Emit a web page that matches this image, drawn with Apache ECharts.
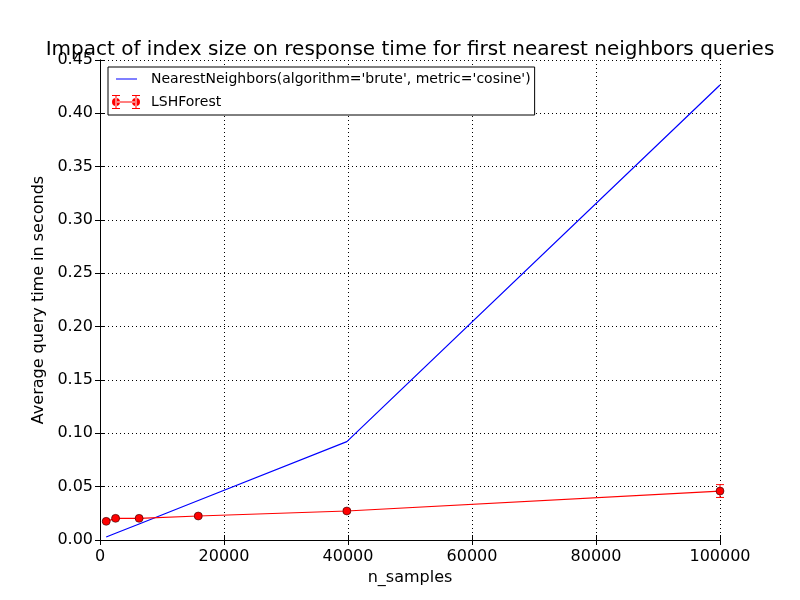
<!DOCTYPE html>
<html>
<head>
<meta charset="utf-8">
<script src="https://cdn.jsdelivr.net/npm/echarts@6/dist/echarts.min.js"></script>
<style>html,body{margin:0;padding:0;background:#fff}#c{width:800px;height:600px}</style>
</head>
<body>
<div id="c"></div>
<script>
const nSamples = [1000, 2512, 6310, 15849, 39811, 100000];
const bruteTimes = [0.0028, 0.0063, 0.0150, 0.0370, 0.0922, 0.4266];
const lshTimes = [0.0175, 0.0203, 0.0203, 0.0225, 0.0272, 0.0459];
const lshErrors = [0.0010, 0.0010, 0.0010, 0.0012, 0.0015, 0.0060];
const xTicks = [0, 20000, 40000, 60000, 80000, 100000];
const yTicks = [0, 0.05, 0.10, 0.15, 0.20, 0.25, 0.30, 0.35, 0.40, 0.45];

const FONT = 'DejaVu Sans';
const chart = echarts.init(document.getElementById('c'), null, {renderer: 'canvas'});

const bruteData = nSamples.map((x, i) => [x, bruteTimes[i]]);
const lshData = nSamples.map((x, i) => [x, lshTimes[i]]);
const errData = nSamples.map((x, i) => [x, lshTimes[i], lshErrors[i]]);

// bounding dots keep the icon box at 28x14
const BOX = 'M0,0 L0.01,0 L0,0.01 Z M28,14 L27.99,14 L28,13.99 Z ';
const bruteIcon = 'path://' + BOX + 'M4,6.5 L25,6.5 L25,7.5 L4,7.5 Z';
function errGlyph(cx) {
  return 'M' + (cx - 4) + ',0 L' + (cx + 4) + ',0 L' + (cx + 4) + ',1 L' + (cx - 4) + ',1 Z ' +
         'M' + (cx - 4) + ',13 L' + (cx + 4) + ',13 L' + (cx + 4) + ',14 L' + (cx - 4) + ',14 Z ' +
         'M' + (cx - 0.5) + ',0 L' + (cx + 0.5) + ',0 L' + (cx + 0.5) + ',14 L' + (cx - 0.5) + ',14 Z ' +
         'M' + (cx - 4) + ',7 A4,4 0 1 0 ' + (cx + 4) + ',7 A4,4 0 1 0 ' + (cx - 4) + ',7 Z ';
}
const lshIcon = 'path://' + BOX + errGlyph(4) + errGlyph(24) + 'M4,6.5 L24,6.5 L24,7.5 L4,7.5 Z';

const axisCommon = {
  type: 'value', min: 0,
  axisLine: {show: true, lineStyle: {color: '#000', width: 1}},
  axisTick: {show: true, inside: true, length: 5, lineStyle: {color: '#000'}},
};

chart.setOption({
  animation: false,
  backgroundColor: '#fff',
  title: {
    text: 'Impact of index size on response time for first nearest neighbors queries',
    left: 405, top: 35, textAlign: 'center',
    textStyle: {fontFamily: FONT, fontSize: 20, fontWeight: 'normal', color: '#000'}
  },
  grid: {left: 100, right: 80, top: 60, bottom: 60},
  legend: {
    orient: 'vertical', left: 108, top: 67,
    padding: [5, 4, 6, 4], itemGap: 9,
    itemWidth: 28, itemHeight: 14,
    backgroundColor: '#fff', borderColor: '#000', borderWidth: 1, borderRadius: 0,
    textStyle: {fontFamily: FONT, fontSize: 14, color: '#000', padding: [0, 0, 0, 6]},
    data: [
      {name: "NearestNeighbors(algorithm='brute', metric='cosine')", icon: bruteIcon,
       itemStyle: {color: '#0000ff', borderWidth: 0}},
      {name: 'LSHForest', icon: lshIcon, itemStyle: {color: '#ff0000', borderWidth: 0}}
    ]
  },
  xAxis: [
    Object.assign({}, axisCommon, {
      position: 'bottom', max: 100000, interval: 20000,
      name: 'n_samples', nameLocation: 'middle', nameGap: 29,
      nameTextStyle: {fontFamily: FONT, fontSize: 16, color: '#000'},
      axisLabel: {fontFamily: FONT, fontSize: 16, color: '#000', margin: 9, formatter: v => String(v)},
      splitLine: {show: true, lineStyle: {color: '#000', type: [1, 3], width: 1}}
    }),
    Object.assign({}, axisCommon, {
      position: 'top', max: 100000, interval: 20000,
      axisLabel: {show: false}, splitLine: {show: false}
    })
  ],
  yAxis: [
    Object.assign({}, axisCommon, {
      position: 'left', max: 0.45, interval: 0.05,
      name: 'Average query time in seconds', nameLocation: 'middle', nameGap: 50,
      nameTextStyle: {fontFamily: FONT, fontSize: 16, color: '#000'},
      axisLabel: {fontFamily: FONT, fontSize: 16, color: '#000', margin: 7, formatter: v => v.toFixed(2)},
      splitLine: {show: true, lineStyle: {color: '#000', type: [1, 3], width: 1}}
    }),
    Object.assign({}, axisCommon, {
      position: 'right', max: 0.45, interval: 0.05,
      axisLabel: {show: false}, splitLine: {show: false}
    })
  ],
  series: [
    {
      name: "NearestNeighbors(algorithm='brute', metric='cosine')",
      type: 'line', data: bruteData, symbol: 'none',
      lineStyle: {color: '#0000ff', width: 1.2}, itemStyle: {color: '#0000ff'},
      z: 3
    },
    {
      name: 'LSHForest',
      type: 'custom', data: errData, z: 4,
      renderItem: function (params, api) {
        const x = api.value(0), y = api.value(1), e = api.value(2);
        const top = api.coord([x, y + e]);
        const bot = api.coord([x, y - e]);
        const style = {stroke: '#ff0000', lineWidth: 1};
        return {
          type: 'group',
          children: [
            {type: 'line', shape: {x1: top[0], y1: top[1], x2: bot[0], y2: bot[1]}, style: style},
            {type: 'line', shape: {x1: top[0] - 4, y1: top[1], x2: top[0] + 4, y2: top[1]}, style: style},
            {type: 'line', shape: {x1: bot[0] - 4, y1: bot[1], x2: bot[0] + 4, y2: bot[1]}, style: style}
          ]
        };
      },
      itemStyle: {color: '#ff0000'},
      clip: false
    },
    {
      name: 'LSHForest',
      type: 'line', data: lshData, symbol: 'circle', symbolSize: 8,
      lineStyle: {color: '#ff0000', width: 1.2},
      itemStyle: {color: '#ff0000', borderColor: '#000', borderWidth: 0.5},
      z: 5
    }
  ]
});
</script>
</body>
</html>
